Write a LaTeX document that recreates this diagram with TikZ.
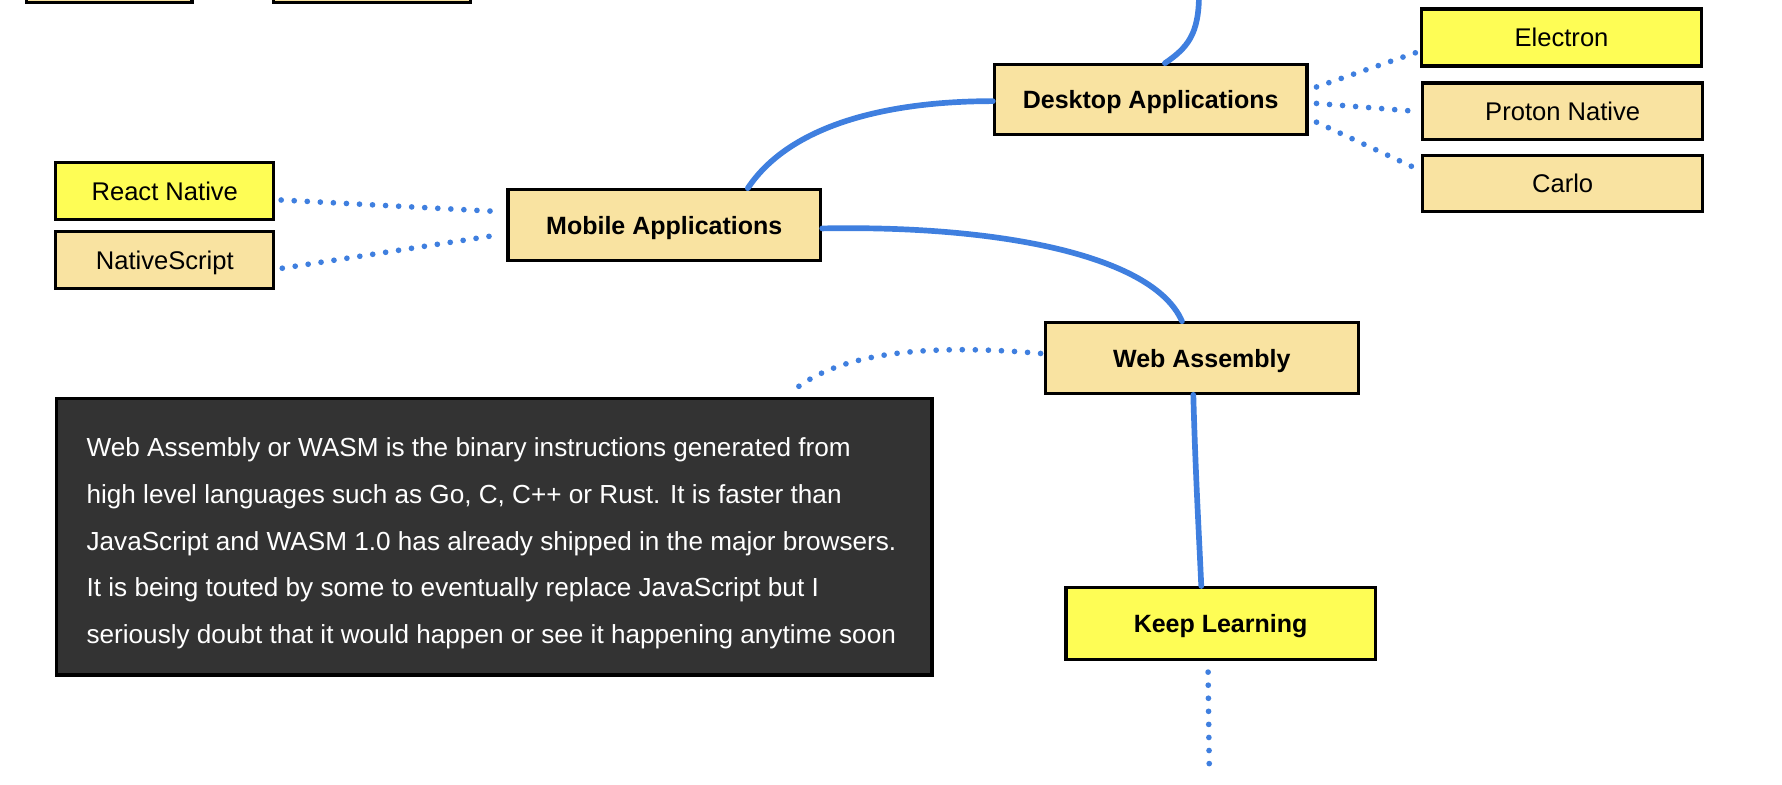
\documentclass[tikz,border=0pt]{standalone}
\usepackage{fontspec}
\setmainfont{Liberation Sans}
\definecolor{wheatbox}{HTML}{F9E3A1}
\definecolor{yelbox}{HTML}{FEFD55}
\definecolor{linkblue}{HTML}{3F7FDF}
\definecolor{darkbox}{HTML}{333333}
\tikzset{
  box/.style={draw=black, line width=2.8pt, fill=wheatbox, inner sep=0pt, text depth=0pt, font=\fontsize{22.5}{24}\selectfont},
  boldbox/.style={box, font=\fontsize{22}{24}\selectfont\bfseries},
  yel/.style={fill=yelbox},
  solidlink/.style={draw=linkblue, line width=5pt, line cap=round},
  dotlink/.style={draw=linkblue, line width=5pt, line cap=round, dash pattern=on 0pt off 11.5pt},
}
\begin{document}
\begin{tikzpicture}[x=1pt,y=-1pt]
\useasboundingbox (0,0) rectangle (1568,690);
\clip (0,0) rectangle (1568,690);
% partially visible boxes at the top edge
\node[box, minimum width=146pt, minimum height=44pt] (topa) at (96,-20) {};
\node[box, minimum width=173pt, minimum height=44pt] (topb) at (327.5,-20) {};
\coordinate (topc) at (1055,-5);

% nodes
\node[boldbox, minimum width=275pt, minimum height=61pt] (desk) at (1012.5,87.5) {Desktop Applications};
\node[box, yel, minimum width=246pt, minimum height=50pt] (electron) at (1374,33) {Electron};
\node[box, minimum width=246pt, minimum height=50pt] (proton) at (1375,98) {Proton Native};
\node[box, minimum width=246pt, minimum height=49pt] (carlo) at (1375,161.5) {Carlo};
\node[boldbox, minimum width=275pt, minimum height=62pt] (mobile) at (584.5,198) {Mobile Applications};
\node[box, yel, minimum width=192pt, minimum height=50pt] (react) at (145,168) {React Native};
\node[box, minimum width=192pt, minimum height=50pt] (nscript) at (145,229) {NativeScript};
\node[boldbox, minimum width=275pt, minimum height=62pt] (wasm) at (1057.5,315) {Web Assembly};
\node[boldbox, yel, minimum width=272pt, minimum height=63pt] (keep) at (1074,548.5) {Keep Learning};
\node[draw=black, line width=2.8pt, fill=darkbox, minimum width=770pt, minimum height=243pt, inner sep=0pt] (note) at (435,472.5) {};
\node[anchor=west, text=white, align=left, inner sep=0pt,
      font=\fontsize{23}{41}\selectfont] (notetext) at (76,478)
  {Web Assembly or WASM is the binary instructions generated from\\
   high level languages such as Go, C, C++ or Rust. It is faster than\\
   JavaScript and WASM 1.0 has already shipped in the major browsers.\\
   It is being touted by some to eventually replace JavaScript but I\\
   seriously doubt that it would happen or see it happening anytime soon};
\coordinate (keepend) at (1064,672);

% solid connectors
\draw[solidlink] (topc) .. controls (1055,30) and (1045,42) .. ([xshift=12.5pt]desk.north);
\draw[solidlink] ([xshift=73.5pt]mobile.north) .. controls (695,110) and (780,89) .. ([yshift=-1.5pt]desk.west);
\draw[solidlink] ([yshift=-3pt]mobile.east) .. controls (880,198) and (1015,225) .. ([xshift=-17.5pt]wasm.north);
\draw[solidlink] ([xshift=-7.5pt]wasm.south) .. controls (1052,420) and (1055,470) .. ([xshift=-17pt]keep.north);

% dotted connectors
\draw[dotlink] ([xshift=7pt,yshift=11pt]desk.east) -- ([yshift=-12pt]electron.west);
\draw[dotlink] ([xshift=7pt,yshift=-3.5pt]desk.east) -- ([xshift=-4pt]proton.west);
\draw[dotlink] ([xshift=7pt,yshift=-20pt]desk.east) -- ([xshift=-4pt,yshift=13pt]carlo.west);
\draw[dotlink] ([xshift=5pt,yshift=-8pt]react.east) -- ([xshift=-9pt,yshift=12pt]mobile.west);
\draw[dotlink] ([xshift=6pt,yshift=-7pt]nscript.east) -- ([xshift=-9pt,yshift=-9pt]mobile.west);
\draw[dotlink] ([xshift=-3pt,yshift=4pt]wasm.west) .. controls (790,300) and (730,318) .. ([xshift=263pt,yshift=6pt]note.north);
\draw[dotlink] ([xshift=-11pt,yshift=-10pt]keep.south) -- (keepend);
\end{tikzpicture}
\end{document}
